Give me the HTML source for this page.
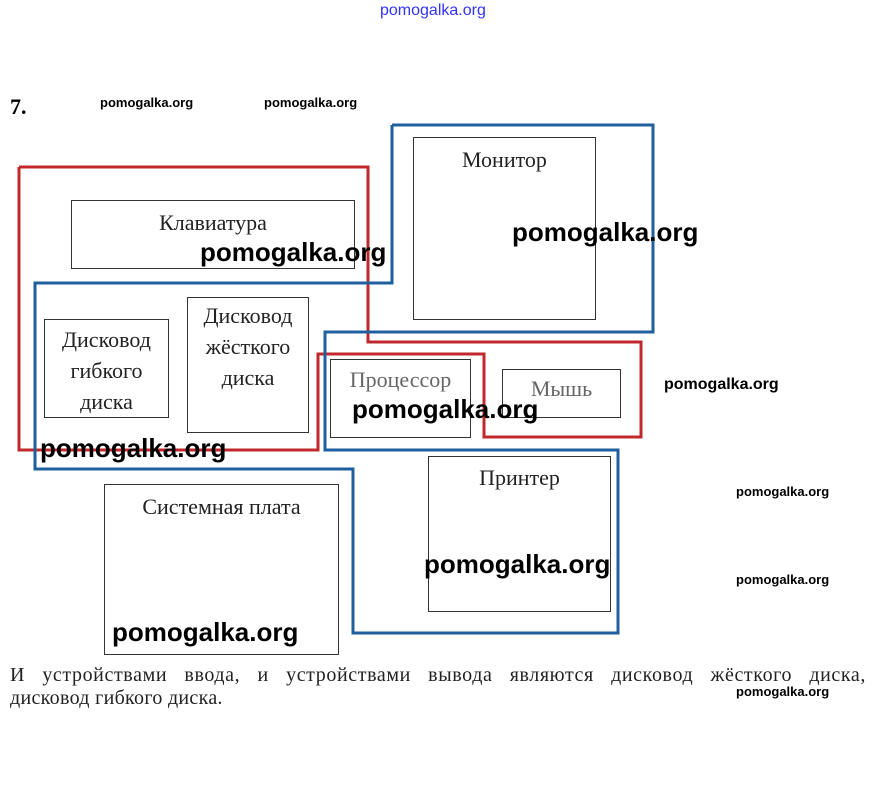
<!DOCTYPE html>
<html><head><meta charset="utf-8"><style>
body{margin:0;background:#fff;width:874px;height:809px;position:relative;overflow:hidden;font-family:"Liberation Serif",serif}
.b{position:absolute;border:1px solid #333;box-sizing:border-box;text-align:center;font-size:22px;color:#222;line-height:31px}
.w{position:absolute;font-family:"Liberation Sans",sans-serif;font-weight:bold;color:#000;white-space:nowrap}
.L{font-size:26px}.S{font-size:13px}
</style></head><body>
<div class="w" style="left:380px;top:2px;font-size:16px;color:#33f;font-weight:normal">pomogalka.org</div>
<div style="position:absolute;left:10px;top:94px;font-size:22px;font-weight:bold">7.</div>
<div class="w S" style="left:100px;top:95px">pomogalka.org</div>
<div class="w S" style="left:264px;top:95px">pomogalka.org</div>
<svg width="874" height="809" style="position:absolute;left:0;top:0">
<polyline fill="none" stroke="#c0282c" stroke-width="3" points="19,167 368,167 368,342 641,342 641,437 484,437 484,354 318,354 318,450 19,450 19,167"/>
<polyline fill="none" stroke="#1f5fa0" stroke-width="3" points="392,125 653,125 653,332 325,332 325,450 618,450 618,633 353,633 353,469 35,469 35,283 392,283 392,125"/>
</svg>
<div class="b" style="left:71px;top:200px;width:284px;height:69px;padding-top:6px">Клавиатура</div>
<div class="b" style="left:413px;top:137px;width:183px;height:183px;padding-top:6px">Монитор</div>
<div class="b" style="left:44px;top:319px;width:125px;height:99px;padding-top:4px">Дисковод<br>гибкого<br>диска</div>
<div class="b" style="left:187px;top:297px;width:122px;height:136px;padding-top:2px">Дисковод<br>жёсткого<br>диска</div>
<div class="b" style="left:330px;top:359px;width:141px;height:79px;padding-top:4px;color:#666">Процессор</div>
<div class="b" style="left:502px;top:369px;width:119px;height:49px;padding-top:3px;color:#666">Мышь</div>
<div class="b" style="left:428px;top:456px;width:183px;height:156px;padding-top:5px">Принтер</div>
<div class="b" style="left:104px;top:484px;width:235px;height:171px;padding-top:6px">Системная плата</div>
<div class="w L" style="left:200px;top:237px">pomogalka.org</div>
<div class="w L" style="left:512px;top:217px">pomogalka.org</div>
<div class="w S" style="left:664px;top:376px;font-size:16px">pomogalka.org</div>
<div class="w L" style="left:352px;top:394px">pomogalka.org</div>
<div class="w L" style="left:40px;top:433px">pomogalka.org</div>
<div class="w L" style="left:424px;top:549px">pomogalka.org</div>
<div class="w L" style="left:112px;top:617px">pomogalka.org</div>
<div class="w S" style="left:736px;top:484px">pomogalka.org</div>
<div class="w S" style="left:736px;top:572px">pomogalka.org</div>
<div class="w S" style="left:736px;top:684px">pomogalka.org</div>
<div style="position:absolute;left:10px;top:664px;width:856px;font-size:20px;letter-spacing:0.6px;line-height:23px;color:#222;text-align:justify;text-align-last:justify">И устройствами ввода, и устройствами вывода являются дисковод жёсткого диска,</div>
<div style="position:absolute;left:10px;top:687px;font-size:20px;letter-spacing:0.3px;line-height:23px;color:#222">дисковод гибкого диска.</div>
</body></html>
